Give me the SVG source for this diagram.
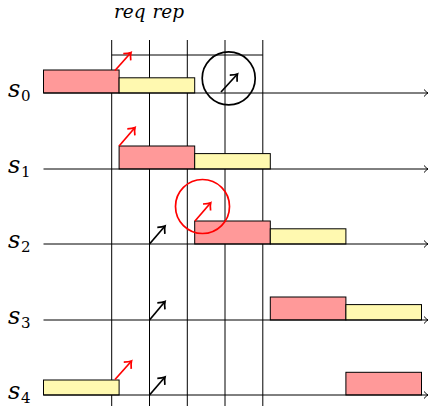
<svg xmlns="http://www.w3.org/2000/svg" width="429" height="406" viewBox="0 0 429 406">
<style>
.bg{fill:#ffffff}
.grid{stroke:#000;stroke-width:1;fill:none}
.tl{stroke:#000;stroke-width:1;fill:none;marker-end:url(#tip)}
.red{fill:#ff9999;stroke:#000;stroke-width:1}
.yel{fill:#fff9b0;stroke:#000;stroke-width:1}
.arB{stroke:#000;stroke-width:1.7;fill:none;marker-end:url(#hb)}
.arR{stroke:#ff0000;stroke-width:1.7;fill:none;marker-end:url(#hr)}
.cB{stroke:#000;stroke-width:1.7;fill:none}
.cR{stroke:#ff0000;stroke-width:1.7;fill:none}
.lab{font-family:"DejaVu Serif",serif;font-style:italic;font-size:24px;fill:#000}
.sub{font-family:"DejaVu Serif",serif;font-size:15px;fill:#000}
.hdr{font-family:"DejaVu Serif",serif;font-style:italic;font-size:18.5px;fill:#000}
</style>
<defs>
<marker id="tip" markerUnits="userSpaceOnUse" markerWidth="10" markerHeight="10" refX="0" refY="0" viewBox="-6 -5 8 10" orient="auto" overflow="visible">
<path d="M -4 -3.5 Q -1.5 -0.8 0 0 Q -1.5 0.8 -4 3.5" fill="none" stroke="#000" stroke-width="1"/>
</marker>
<marker id="hb" markerUnits="userSpaceOnUse" markerWidth="14" markerHeight="14" refX="0" refY="0" viewBox="-8 -7 10 14" orient="auto" overflow="visible">
<path d="M -6 -5 Q -2.5 -1.2 0 0 Q -2.5 1.2 -6 5" fill="none" stroke="#000" stroke-width="1.7"/>
</marker>
<marker id="hr" markerUnits="userSpaceOnUse" markerWidth="14" markerHeight="14" refX="0" refY="0" viewBox="-8 -7 10 14" orient="auto" overflow="visible">
<path d="M -6 -5 Q -2.5 -1.2 0 0 Q -2.5 1.2 -6 5" fill="none" stroke="#ff0000" stroke-width="1.7"/>
</marker>
</defs>
<rect class="bg" x="0" y="0" width="429" height="406"/>
<g id="header">
<text class="hdr" x="114" y="18">req</text>
<text class="hdr" x="152.5" y="18">rep</text>
</g>
<g id="grid" class="grid">
<line x1="111.7" y1="40" x2="111.7" y2="406"/>
<line x1="149.5" y1="40" x2="149.5" y2="406"/>
<line x1="187.3" y1="40" x2="187.3" y2="406"/>
<line x1="225" y1="40" x2="225" y2="406"/>
<line x1="262.8" y1="40" x2="262.8" y2="406"/>
<line x1="111.7" y1="55" x2="262.8" y2="55"/>
</g>
<g id="s0">
<text class="lab" x="8" y="96.5">s</text><text class="sub" x="21" y="101">0</text>
<rect class="red" x="43.5" y="70" width="75.6" height="23"/>
<rect class="yel" x="119.1" y="77.8" width="75.6" height="15.2"/>
</g>
<g id="s1">
<text class="lab" x="8" y="172.5">s</text><text class="sub" x="21" y="177">1</text>
<rect class="red" x="119.1" y="146" width="75.6" height="23"/>
<rect class="yel" x="194.7" y="153.6" width="75.6" height="15.4"/>
</g>
<g id="s2">
<text class="lab" x="8" y="247.5">s</text><text class="sub" x="21" y="252">2</text>
<rect class="red" x="194.7" y="221" width="75.6" height="23"/>
<rect class="yel" x="270.3" y="228.8" width="75.6" height="15.2"/>
</g>
<g id="s3">
<text class="lab" x="8" y="323.5">s</text><text class="sub" x="21" y="328">3</text>
<rect class="red" x="270.3" y="297" width="75.6" height="23"/>
<rect class="yel" x="345.9" y="304.6" width="75.6" height="15.4"/>
</g>
<g id="s4">
<text class="lab" x="8" y="398.5">s</text><text class="sub" x="21" y="403">4</text>
<rect class="yel" x="43.5" y="380" width="75.6" height="15"/>
<rect class="red" x="345.9" y="372.3" width="75.6" height="22.7"/>
</g>
<g id="highlights">
<circle class="cB" cx="228.7" cy="78.3" r="26.5"/>
<circle class="cR" cx="202.5" cy="206.5" r="27"/>
</g>
<g id="connectors">
<line class="tl" x1="43.5" y1="93" x2="428" y2="93"/>
<line class="tl" x1="43.5" y1="169" x2="428" y2="169"/>
<line class="tl" x1="43.5" y1="244" x2="428" y2="244"/>
<line class="tl" x1="43.5" y1="320" x2="428" y2="320"/>
<line class="tl" x1="43.5" y1="395" x2="428" y2="395"/>
<line class="arR" x1="115" y1="70.5" x2="131" y2="52.5"/>
<line class="arB" x1="221" y1="92" x2="237.5" y2="74"/>
<line class="arR" x1="119.1" y1="146" x2="135" y2="127.5"/>
<line class="arR" x1="195" y1="221" x2="210.7" y2="202.7"/>
<line class="arB" x1="149.5" y1="244" x2="165" y2="226"/>
<line class="arB" x1="149.5" y1="320" x2="165" y2="301.5"/>
<line class="arR" x1="115" y1="379.5" x2="131.5" y2="361"/>
<line class="arB" x1="149.5" y1="395" x2="165" y2="377"/>
</g>
</svg>
